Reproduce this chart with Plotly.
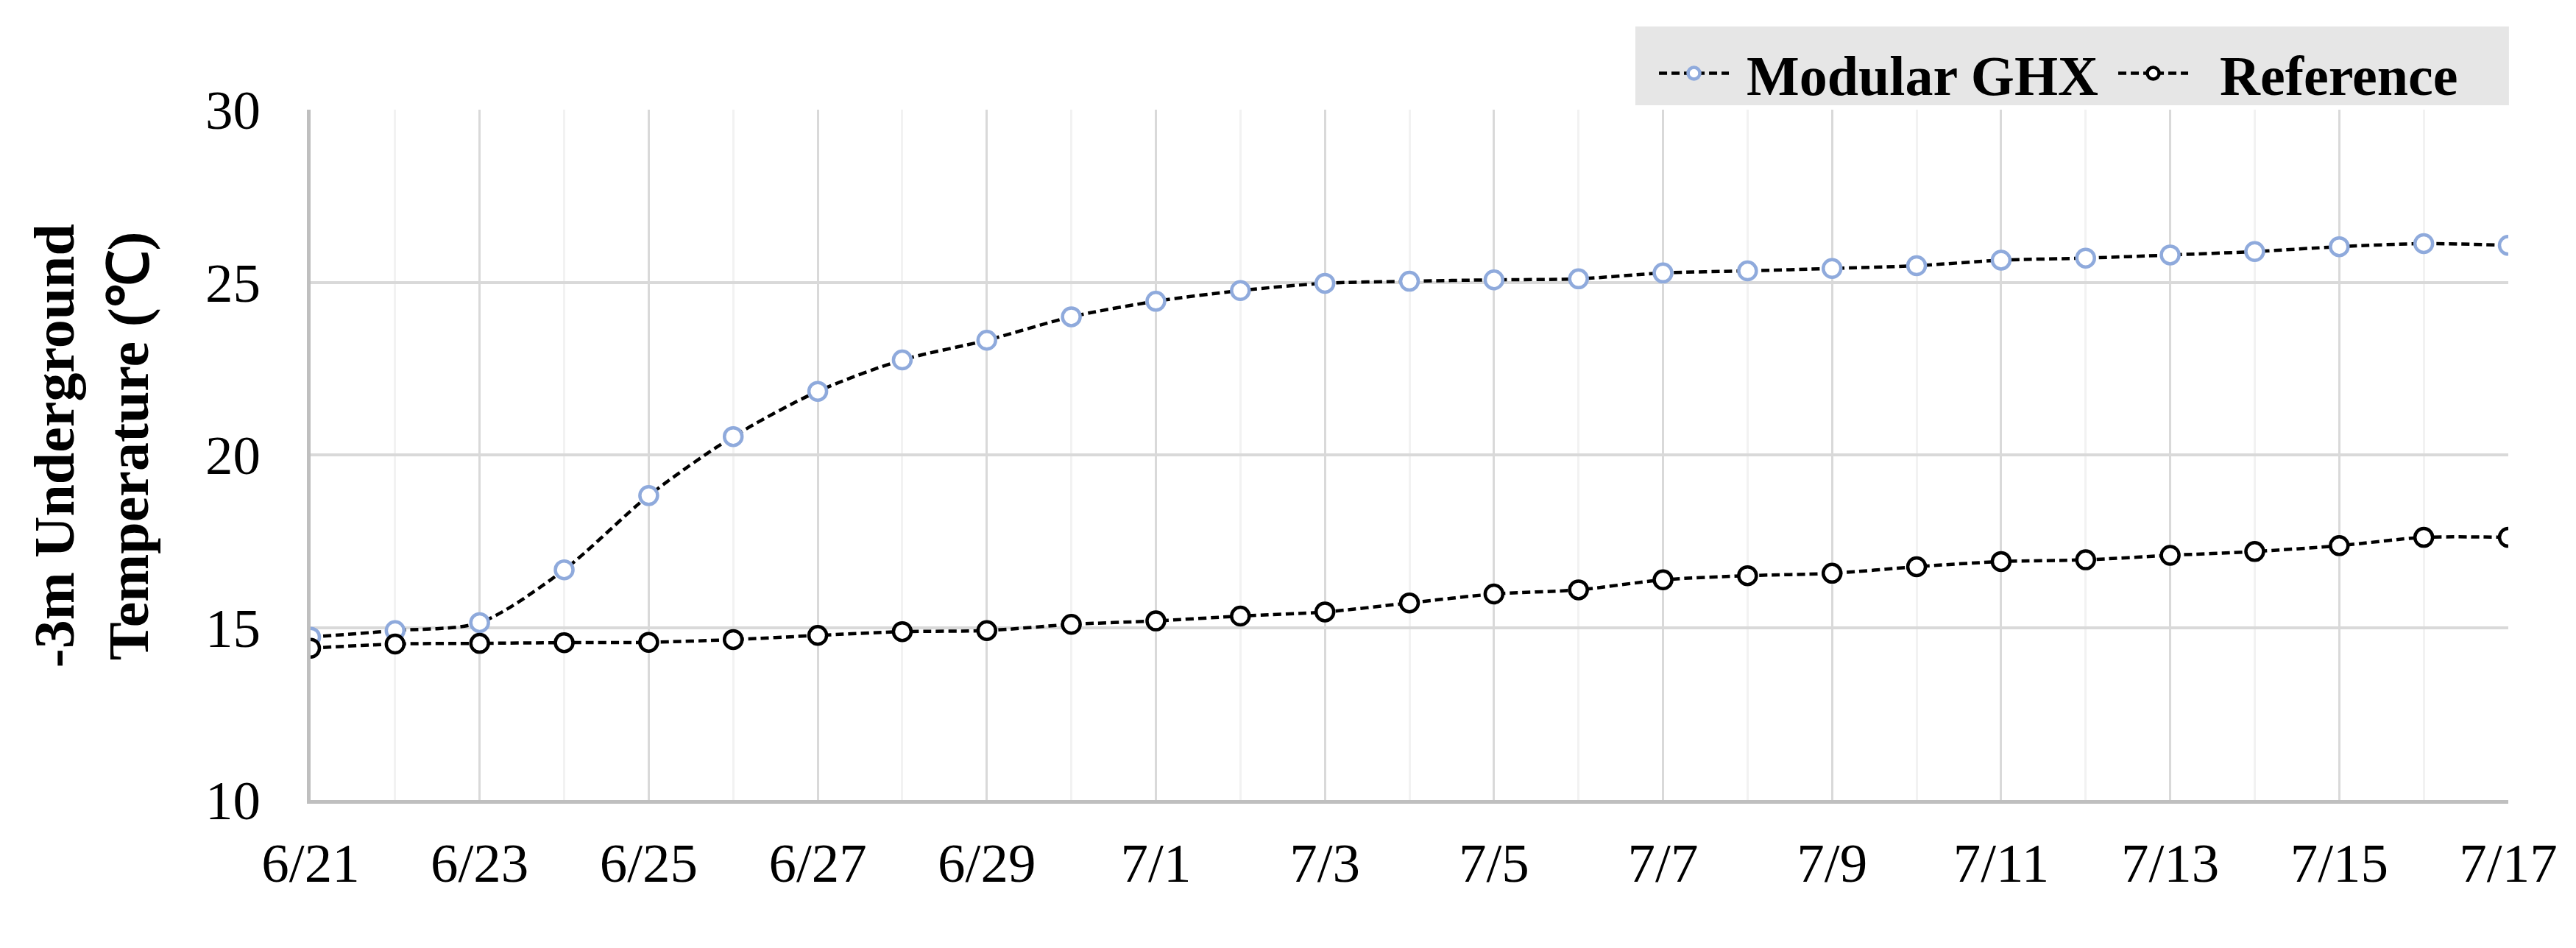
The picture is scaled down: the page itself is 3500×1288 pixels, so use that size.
import plotly.graph_objects as go

dates = ["2021-06-21", "2021-06-22", "2021-06-23", "2021-06-24", "2021-06-25", "2021-06-26",
         "2021-06-27", "2021-06-28", "2021-06-29", "2021-06-30", "2021-07-01", "2021-07-02",
         "2021-07-03", "2021-07-04", "2021-07-05", "2021-07-06", "2021-07-07", "2021-07-08",
         "2021-07-09", "2021-07-10", "2021-07-11", "2021-07-12", "2021-07-13", "2021-07-14",
         "2021-07-15", "2021-07-16", "2021-07-17"]

modular_ghx = [14.72, 14.91, 15.14, 16.67, 18.82, 20.53, 21.84, 22.75, 23.32, 24.0,
               24.45, 24.76, 24.97, 25.03, 25.07, 25.1, 25.27, 25.33, 25.4, 25.48,
               25.64, 25.7, 25.79, 25.89, 26.03, 26.12, 26.07]

reference = [14.4, 14.52, 14.54, 14.56, 14.57, 14.65, 14.77, 14.88, 14.91, 15.09,
             15.19, 15.33, 15.45, 15.71, 15.97, 16.09, 16.38, 16.5, 16.57, 16.76,
             16.91, 16.96, 17.09, 17.2, 17.37, 17.61, 17.61]

y_ticks = [10, 15, 20, 25, 30]

FONT = "Liberation Serif, Times New Roman, serif"

fig = go.Figure()
fig.add_trace(go.Scatter(
    x=dates, y=modular_ghx, name="\u00a0Modular GHX", mode="lines+markers",
    line=dict(color="black", width=4.5, dash="11px,6px", shape="spline", smoothing=0.8),
    marker=dict(symbol="circle", size=24, color="white",
                line=dict(color="#8FAADC", width=4.5)),
))
fig.add_trace(go.Scatter(
    x=dates, y=reference, name="\u00a0\u00a0Reference", mode="lines+markers",
    line=dict(color="black", width=4.5, dash="11px,6px", shape="spline", smoothing=0.8),
    marker=dict(symbol="circle", size=24, color="white",
                line=dict(color="black", width=4.5)),
))

fig.update_layout(
    width=3500, height=1288,
    margin=dict(l=414, r=100, t=141, b=209, autoexpand=False),
    paper_bgcolor="white", plot_bgcolor="white",
    font=dict(family=FONT, size=75, color="black"),
    showlegend=True,
    legend=dict(
        orientation="h", xref="container", yref="container",
        x=0.6403, xanchor="left", y=0.9724, yanchor="top",
        bgcolor="rgba(0,0,0,0)", font=dict(family=FONT, size=76, color="black", weight="bold"),
        itemsizing="trace", itemwidth=95,
        entrywidth=514, entrywidthmode="pixels",
    ),
    shapes=[dict(
        type="rect", xref="paper", yref="paper",
        x0=0.6028, x1=1.0003, y0=1.0064, y1=1.1205,
        fillcolor="#E6E6E6", line=dict(width=0), layer="below",
    )],
    xaxis=dict(
        type="date", range=["2021-06-21", "2021-07-17"],
        tick0="2021-06-21", dtick=2 * 86400000, tickformat="%-m/%-d",
        showgrid=True, gridcolor="#D9D9D9", gridwidth=3,
        minor=dict(dtick=86400000, tick0="2021-06-21", showgrid=True,
                   gridcolor="#F2F2F2", gridwidth=3),
        showline=True, linecolor="#BFBFBF", linewidth=5,
        ticks="", ticklabelstandoff=16,
        tickfont=dict(family=FONT, size=75),
        zeroline=False, automargin=False,
    ),
    yaxis=dict(
        range=[10, 30], tickvals=y_ticks,
        showgrid=True, gridcolor="#D9D9D9", gridwidth=4,
        showline=True, linecolor="#BFBFBF", linewidth=5,
        ticks="", ticklabelstandoff=48,
        tickfont=dict(family=FONT, size=75),
        zeroline=False, automargin=False,
    ),
    annotations=[dict(
        text="-3m Underground<br>Temperature (℃)",
        xref="paper", yref="paper", x=-0.0998, y=0.5135,
        xanchor="center", yanchor="middle", textangle=-90, showarrow=False,
        font=dict(family=FONT, size=78, weight="bold", color="black"),
    )],
)

fig.write_html("out.html")
